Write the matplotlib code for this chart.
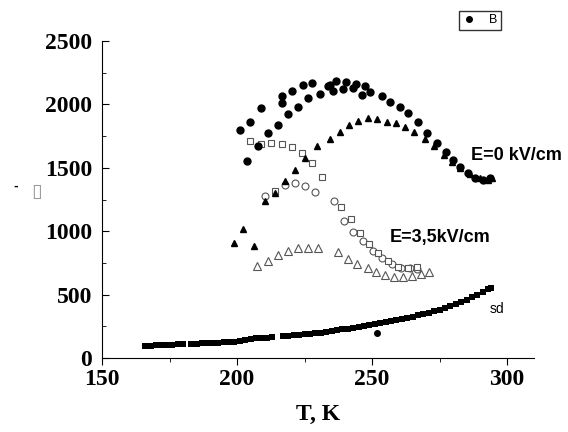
import matplotlib
matplotlib.use("Agg")
import matplotlib.pyplot as plt
from matplotlib.ticker import MultipleLocator

# E=0 kV/cm, filled circles (series "B")
t_circ = [201.1, 203.7, 204.8, 207.8, 208.9, 211.5, 215.2, 216.7, 216.7, 218.9,
          220.4, 222.6, 224.4, 226.3, 227.8, 230.7, 233.7, 234.4, 235.6, 236.7,
          239.3, 240.4, 243.0, 244.1, 246.3, 247.4, 249.3, 253.7, 256.7, 260.4,
          263.3, 267.0, 270.4, 274.1, 277.4, 280.0, 282.6, 285.6, 288.1, 291.1, 293.7]
v_circ = [1798, 1554, 1861, 1672, 1971, 1774, 1837, 2011, 2066, 1924,
          2106, 1979, 2153, 2050, 2169, 2082, 2145, 2153, 2106, 2184,
          2121, 2177, 2129, 2161, 2074, 2145, 2098, 2066, 2019, 1979,
          1932, 1861, 1774, 1695, 1625, 1561, 1506, 1459, 1419, 1404, 1419]

# filled triangles
t_tri = [198.9, 202.2, 206.3, 210.4, 214.1, 217.8, 221.5, 225.2, 229.6, 234.4,
         238.1, 241.5, 244.8, 248.5, 251.9, 255.6, 258.9, 262.2, 265.6, 269.6,
         273.0, 276.7, 279.6, 282.6, 286.3, 290.0, 293.0, 294.4]
v_tri = [907, 1017, 883, 1238, 1301, 1396, 1483, 1577, 1672, 1727,
         1782, 1837, 1869, 1893, 1885, 1861, 1853, 1822, 1782, 1727,
         1672, 1601, 1546, 1498, 1451, 1419, 1404, 1419]

# E=3,5 kV/cm, open squares
t_sq = [204.8, 208.9, 212.6, 214.1, 216.7, 220.4, 224.1, 227.8, 231.5, 238.5,
        242.2, 245.6, 248.9, 252.2, 255.9, 259.6, 263.3, 266.7]
v_sq = [1711, 1688, 1695, 1317, 1688, 1664, 1617, 1538, 1427, 1191,
        1096, 986, 899, 828, 765, 718, 710, 718]

# open circles
t_oc = [210.4, 217.8, 221.5, 225.2, 228.9, 235.9, 239.6, 243.0, 246.7, 250.4,
        253.7, 257.4, 260.7, 264.1, 266.7]
v_oc = [1278, 1364, 1380, 1356, 1309, 1238, 1080, 994, 923, 844,
        789, 741, 710, 710, 702]

# open triangles
t_ot = [207.4, 211.5, 215.2, 218.9, 222.6, 226.3, 230.0, 237.4, 241.1, 244.4,
        248.5, 251.5, 254.8, 258.1, 261.5, 264.8, 268.1, 271.1]
v_ot = [726, 765, 812, 844, 867, 867, 867, 836, 781, 741,
        710, 678, 655, 639, 639, 647, 662, 678]

# sd curve
t_sd = [166, 168, 170, 172, 174, 176, 178, 180, 183, 185, 187, 189, 191, 193, 195,
        197, 199, 201, 203, 205, 207, 209, 211, 213, 217, 219, 221, 223, 225, 227,
        229, 231, 233, 235, 237, 239, 241, 243, 245, 247, 249, 251, 253, 255, 257,
        259, 261, 263, 265, 267, 269, 271, 273, 275, 277, 279, 281, 283, 285, 287,
        289, 291, 293, 294]
v_sd = [95, 97, 99, 101, 103, 105, 107, 109, 112, 114, 116, 118, 120, 122, 124,
        127, 130, 135, 145, 152, 155, 158, 161, 164, 170, 174, 178, 182, 186, 191,
        196, 201, 207, 213, 219, 225, 232, 238, 245, 252, 259, 266, 274, 282, 290,
        298, 307, 316, 326, 336, 346, 356, 368, 381, 395, 410, 425, 442, 460, 480,
        500, 522, 545, 555]
t_out, v_out = [252], [195]

W, H = 568, 432
fig = plt.figure(figsize=(W / 100, H / 100), dpi=100)
ax = fig.add_axes([102 / W, 1 - 358 / H, 432 / W, 317 / H])

grey = '#555555'
ax.plot(t_sd, v_sd, 's', color='black', ms=5, mew=0)
ax.plot(t_out, v_out, 'o', color='black', ms=4)
ax.plot(t_ot, v_ot, '^', mfc='white', mec=grey, ms=5.5, mew=0.8)
ax.plot(t_oc, v_oc, 'o', mfc='white', mec=grey, ms=5, mew=0.8)
ax.plot(t_sq, v_sq, 's', mfc='white', mec=grey, ms=4.5, mew=0.8)
ax.plot(t_tri, v_tri, '^', color='black', ms=5)
ax.plot(t_circ, v_circ, 'o', color='black', ms=5, label='B')

ax.set_xlim(150, 310)
ax.set_ylim(0, 2500)
ax.spines['top'].set_visible(False)
ax.spines['right'].set_visible(False)
ax.xaxis.set_major_locator(MultipleLocator(50))
ax.xaxis.set_minor_locator(MultipleLocator(25))
ax.yaxis.set_major_locator(MultipleLocator(500))
ax.yaxis.set_minor_locator(MultipleLocator(250))
ax.tick_params(axis='y', which='both', direction='in', pad=7)
ax.tick_params(axis='x', which='both', direction='out', pad=3)
ax.tick_params(which='major', length=5)
ax.tick_params(which='minor', length=3)

for lab in ax.get_xticklabels() + ax.get_yticklabels():
    lab.set_family('Liberation Serif')
    lab.set_fontweight('bold')
    lab.set_fontsize(17)

ax.set_xlabel('T, K', family='Liberation Serif', fontweight='bold', fontsize=17, labelpad=10)

# y label rendered as broken glyphs in the original
fig.text(16 / W, 1 - 187 / H, '-', fontsize=8, fontweight='bold', ha='center', va='center')
fig.text(37 / W, 1 - 191 / H, '\u25af', fontsize=14, color='#999999', ha='center', va='center')

fig.text(471 / W, 1 - 155 / H, 'E=0 kV/cm', fontsize=13, fontweight='bold',
         family='Liberation Sans', va='center')
fig.text(390 / W, 1 - 237 / H, 'E=3,5kV/cm', fontsize=13, fontweight='bold',
         family='Liberation Sans', va='center')
fig.text(490 / W, 1 - 309 / H, 'sd', fontsize=10, family='Liberation Sans', va='center')

leg = ax.legend(loc='upper right', bbox_to_anchor=(507 / W, 1 - 5 / H),
                bbox_transform=fig.transFigure, frameon=True,
                fancybox=False, edgecolor='black', handlelength=1.2,
                handletextpad=1.0, borderpad=0.25, markerscale=0.8,
                prop={'family': 'Liberation Sans', 'size': 9})
leg.get_frame().set_linewidth(1.0)

fig.savefig('out.png', dpi=100)
